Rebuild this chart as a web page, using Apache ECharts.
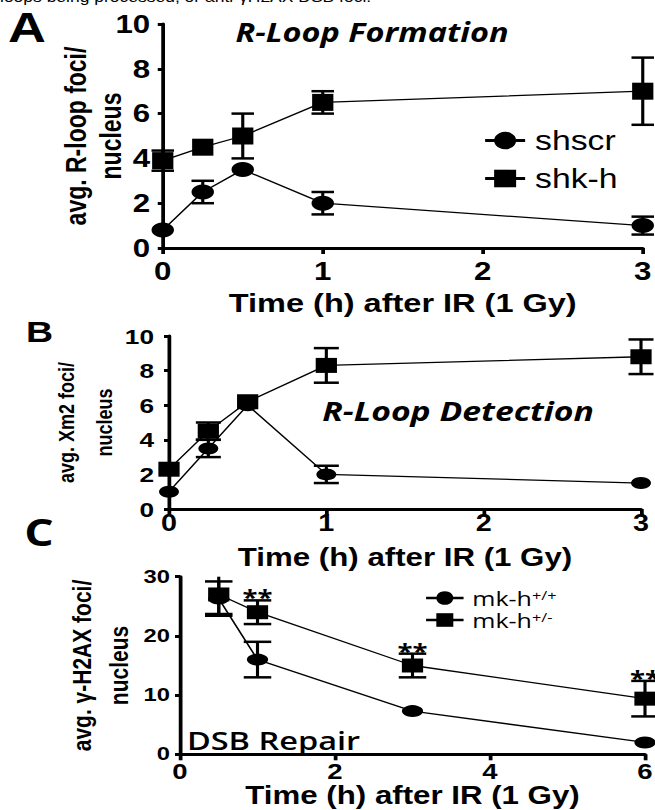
<!DOCTYPE html>
<html><head><meta charset="utf-8">
<script src="https://cdn.jsdelivr.net/npm/echarts@6/dist/echarts.min.js"></script>
<style>
html,body{margin:0;padding:0;background:#fff;overflow:hidden;}
#wrap{width:655px;height:810px;overflow:hidden;position:relative;background:#fff;}
#chart{width:524px;height:810px;transform:scaleX(1.25);transform-origin:0 0;}
</style></head><body><div id="wrap"><div id="chart"></div></div>
<script>
// ---------- data ----------
// Panel A: R-loop foci per nucleus
const timeA = [0, 0.25, 0.5, 1, 3];
const aShscr = [0.8, 2.5, 3.5, 2.0, 1.0];
const aShscrSem = [0, 0.5, 0, 0.5, 0.4];
const aShkh = [3.9, 4.5, 5.0, 6.5, 7.0];
const aShkhSem = [0.45, 0, 1.0, 0.5, 1.5];
// Panel B: Xm2 foci per nucleus
const timeB = [0, 0.25, 0.5, 1, 3];
const bShscr = [1.0, 3.5, 6.0, 2.0, 1.5];
const bShscrSem = [0, 0.5, 0, 0.5, 0];
const bShkh = [2.3, 4.5, 6.2, 8.3, 8.8];
const bShkhSem = [0, 0.5, 0, 1.0, 1.0];
// Panel C: gamma-H2AX foci per nucleus
const timeC = [0.5, 1, 3, 6];
const cWT = [26.3, 16, 7.3, 2.0];
const cWTSem = [2.9, 3, 0, 0];
const cHet = [27, 24, 15, 9.4];
const cHetSem = [3.3, 2, 2, 3];
const cSig = ['', '**', '**', '**'];
// axis ranges / ticks
const axA = {xMax: 3, xStep: 1, yMax: 10, yStep: 2};
const axB = {xMax: 3, xStep: 1, yMax: 10, yStep: 2};
const axC = {xMax: 6, xStep: 2, yMax: 30, yStep: 10};
const legendA = ['shscr', 'shk-h'];
const legendC = ['mk-h+/+', 'mk-h+/-'];

// ---------- helpers ----------
const ARIAL = "Arial, 'Liberation Sans', Helvetica, sans-serif";
const OPEN = "'Open Sans', 'Noto Sans', sans-serif";

function pts(t, v) { return t.map((x, i) => [x, v[i]]); }
function errPts(t, v, s) { return t.map((x, i) => [x, v[i] - s[i], v[i] + s[i]]); }

function errBar(capHalf, yMax) {
  return function (params, api) {
    const x = api.value(0), lo = api.value(1), hi = api.value(2);
    if (!(hi - lo > 0)) return null;
    const hiC = Math.min(hi, yMax);
    const pT = api.coord([x, hiC]), pB = api.coord([x, lo]);
    const st = {stroke: '#000', lineWidth: 2.5, fill: null};
    const ch = [{type: 'line', shape: {x1: pT[0], y1: pT[1], x2: pB[0], y2: pB[1]}, style: st}];
    if (hi <= yMax) ch.push({type: 'line', shape: {x1: pT[0] - capHalf, y1: pT[1], x2: pT[0] + capHalf, y2: pT[1]}, style: st});
    ch.push({type: 'line', shape: {x1: pB[0] - capHalf, y1: pB[1], x2: pB[0] + capHalf, y2: pB[1]}, style: st});
    return {type: 'group', children: ch};
  };
}
function sigMark(params, api) {
  const p = api.coord([api.value(0), api.value(1)]);
  return {
    type: 'text', x: p[0], y: p[1] + 7,
    style: {text: cSig[api.value(2)], fill: '#000', font: "bold 22px 'Open Sans', sans-serif",
      textAlign: 'center', textVerticalAlign: 'bottom'}
  };
}

function xAx(idx, ax, fs, margin, nameFs, nameGap) {
  return {
    type: 'value', gridIndex: idx, min: 0, max: ax.xMax, interval: ax.xStep,
    splitLine: {show: false},
    axisLine: {show: true, onZero: false, lineStyle: {color: '#000', width: 3}},
    axisTick: {show: true, inside: false, length: 6, lineStyle: {color: '#000', width: 3}},
    axisLabel: {color: '#000', fontSize: fs, fontWeight: 'bold', fontFamily: ARIAL, margin: margin},
    name: 'Time (h) after IR (1 Gy)', nameLocation: 'middle', nameGap: nameGap, nameMoveOverlap: false,
    nameTextStyle: {color: '#000', fontSize: nameFs, fontWeight: 'bold', fontFamily: ARIAL}
  };
}
function yAx(idx, ax, fs, margin, name, nameFs, lh, nameGap) {
  return {
    type: 'value', gridIndex: idx, min: 0, max: ax.yMax, interval: ax.yStep,
    splitLine: {show: false},
    axisLine: {show: true, onZero: false, lineStyle: {color: '#000', width: 3}},
    axisTick: {show: true, inside: false, length: 4, lineStyle: {color: '#000', width: 3}},
    axisLabel: {color: '#000', fontSize: fs, fontWeight: 'bold', fontFamily: ARIAL, margin: margin},
    name: name, nameLocation: 'middle', nameRotate: 90, nameGap: nameGap, nameMoveOverlap: false,
    nameTextStyle: {color: '#000', fontSize: nameFs, fontWeight: 'bold', fontFamily: ARIAL, lineHeight: lh}
  };
}
function lineS(name, idx, data, symbol, size) {
  return {
    name: name, type: 'line', xAxisIndex: idx, yAxisIndex: idx, data: data,
    symbol: symbol, symbolSize: size, showSymbol: true, clip: false, z: 3,
    itemStyle: {color: '#000'}, lineStyle: {color: '#000', width: 1.3},
    emphasis: {disabled: true}
  };
}
function errS(idx, data, cap, yMax) {
  return {
    type: 'custom', xAxisIndex: idx, yAxisIndex: idx, data: data, clip: false, z: 2,
    encode: {x: 0, y: [1, 2]}, renderItem: errBar(cap, yMax), silent: true
  };
}

const chart = echarts.init(document.getElementById('chart'), null, {renderer: 'svg'});
const option = {
  animation: false,
  backgroundColor: '#fff',
  grid: [
    {left: 130.2, right: 9.8, top: 24, bottom: 562, containLabel: false, outerBoundsMode: 'none'},
    {left: 135.2, right: 11.2, top: 336, bottom: 301, containLabel: false, outerBoundsMode: 'none'},
    {left: 144, right: 8, top: 576.7, bottom: 55.7, containLabel: false, outerBoundsMode: 'none'}
  ],
  xAxis: [
    xAx(0, axA, 25, 11, 26, 42),
    xAx(1, axB, 23, 3, 25, 35.5),
    xAx(2, axC, 22, 6, 25, 28.5)
  ],
  yAxis: [
    yAx(0, axA, 25, 10, 'avg. R-loop foci/\nnucleus', 23, 28, 27.4),
    yAx(1, axB, 21, 12, 'avg. Xm2 foci/\nnucleus', 18, 30, 37),
    yAx(2, axC, 19, 8, 'avg. γ-H2AX foci/\nnucleus', 21, 30, 34)
  ],
  legend: [
    {
      data: legendA, orient: 'vertical', left: 381.6, top: 122, itemWidth: 32, itemHeight: 22,
      itemGap: 11, selectedMode: false,
      lineStyle: {width: 3},
      textStyle: {color: '#000', fontSize: 27, fontFamily: ARIAL, padding: [0, 0, 0, 3]}
    },
    {
      data: legendC, orient: 'vertical', left: 334.6, top: 583, itemWidth: 30, itemHeight: 17,
      itemGap: 2, selectedMode: false,
      lineStyle: {width: 2.5},
      formatter: function (n) { return '{b|mk-h}{s|' + n.slice(4) + '}'; },
      textStyle: {
        color: '#000', fontFamily: OPEN, padding: [0, 0, 0, 2], lineHeight: 19,
        rich: {
          b: {fontSize: 20, fontFamily: OPEN, color: '#000', lineHeight: 19},
          s: {fontSize: 13, fontFamily: OPEN, color: '#000', lineHeight: 12, padding: [0, 0, 7, 0]}
        }
      }
    }
  ],
  series: [
    errS(0, errPts(timeA, aShscr, aShscrSem), 9, axA.yMax),
    errS(0, errPts(timeA, aShkh, aShkhSem), 9, axA.yMax),
    lineS('shscr', 0, pts(timeA, aShscr), 'circle', [18, 15]),
    lineS('shk-h', 0, pts(timeA, aShkh), 'rect', [17, 17]),

    errS(1, errPts(timeB, bShscr, bShscrSem), 10, axB.yMax),
    errS(1, errPts(timeB, bShkh, bShkhSem), 10, axB.yMax),
    lineS('shscr (Xm2)', 1, pts(timeB, bShscr), 'circle', [16, 12]),
    lineS('shk-h (Xm2)', 1, pts(timeB, bShkh), 'rect', [17, 15]),

    errS(2, errPts(timeC, cWT, cWTSem), 11, axC.yMax),
    errS(2, errPts(timeC, cHet, cHetSem), 11, axC.yMax),
    lineS('mk-h+/+', 2, pts(timeC, cWT), 'circle', [17, 12]),
    lineS('mk-h+/-', 2, pts(timeC, cHet), 'rect', [17, 14]),
    {
      type: 'custom', xAxisIndex: 2, yAxisIndex: 2, z: 5, silent: true, clip: false,
      encode: {x: 0, y: 1},
      data: timeC.map((t, i) => [t, cHet[i] + cHetSem[i], i]).filter(d => cSig[d[2]]),
      renderItem: sigMark
    }
  ],
  graphic: [
    {type: 'text', left: 0, top: -10, style: {text: 'loops being processed, or anti-γH2AX DSB foci.', fill: '#000', font: "14px Arial, 'Liberation Sans', sans-serif"}},
    {type: 'text', x: 21.6, y: 27.5, style: {text: 'A', fill: '#000', font: "bold 42px Arial, 'Liberation Sans', sans-serif", textAlign: 'center', textVerticalAlign: 'middle'}},
    {type: 'text', x: 31.6, y: 331, style: {text: 'B', fill: '#000', font: "bold 30px Arial, 'Liberation Sans', sans-serif", textAlign: 'center', textVerticalAlign: 'middle'}},
    {type: 'text', x: 31.2, y: 531.5, style: {text: 'C', fill: '#000', font: "bold 37px 'Open Sans', sans-serif", textAlign: 'center', textVerticalAlign: 'middle'}},
    {type: 'text', x: 297.6, y: 32, style: {text: 'R-Loop Formation', fill: '#000', font: "italic bold 26px 'Open Sans', sans-serif", textAlign: 'center', textVerticalAlign: 'middle'}},
    {type: 'text', x: 366.5, y: 410, style: {text: 'R-Loop Detection', fill: '#000', font: "italic bold 27px 'Open Sans', sans-serif", textAlign: 'center', textVerticalAlign: 'middle'}},
    {type: 'text', x: 218.8, y: 740, style: {text: 'DSB Repair', fill: '#000', font: "600 26px 'Open Sans', sans-serif", textAlign: 'center', textVerticalAlign: 'middle'}}
  ]
};
chart.setOption(option);
</script></body></html>
